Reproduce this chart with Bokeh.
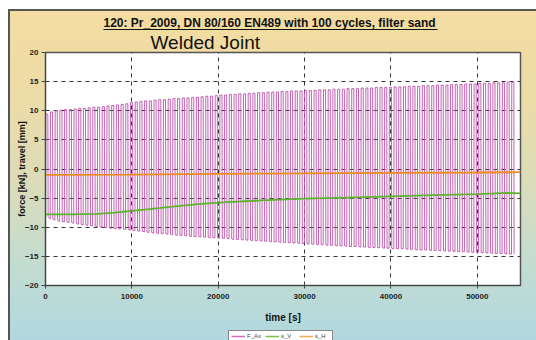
from bokeh.plotting import figure
from bokeh.layouts import column
from bokeh.models import Range1d, FixedTicker, Title, LinearAxis, Legend, LegendItem
from bokeh.embed import file_html
from bokeh.resources import INLINE

# ---------------- data ----------------
cycle_period = 545  # s
force_max = [9.4, 9.8, 10.0, 10.1, 10.2, 10.2, 10.3, 10.4, 10.4, 10.5,
             10.6, 10.6, 10.7, 10.8, 10.9, 11.0, 11.1, 11.2, 11.4, 11.5,
             11.6, 11.7, 11.7, 11.8, 11.9, 11.9, 12.0, 12.1, 12.1, 12.2,
             12.2, 12.3, 12.3, 12.4, 12.5, 12.5, 12.6, 12.7, 12.7, 12.8,
             12.8, 12.9, 12.9, 13.0, 13.0, 13.1, 13.1, 13.2, 13.2, 13.2,
             13.3, 13.3, 13.4, 13.4, 13.4, 13.5, 13.5, 13.5, 13.6, 13.6,
             13.6, 13.7, 13.7, 13.7, 13.8, 13.8, 13.8, 13.9, 13.9, 13.9,
             14.0, 14.0, 14.0, 14.0, 14.1, 14.1, 14.1, 14.2, 14.2, 14.2,
             14.3, 14.3, 14.3, 14.4, 14.4, 14.4, 14.5, 14.5, 14.5, 14.6,
             14.6, 14.6, 14.7, 14.7, 14.7, 14.8, 14.8, 14.8, 14.9, 14.9]
force_min = [-8.2, -8.6, -8.8, -9.0, -9.1, -9.2, -9.3, -9.5, -9.6, -9.7,
             -9.8, -9.9, -10.0, -10.1, -10.2, -10.3, -10.3, -10.4, -10.5, -10.6,
             -10.7, -10.8, -10.9, -11.0, -11.1, -11.1, -11.2, -11.3, -11.4, -11.4,
             -11.5, -11.6, -11.6, -11.7, -11.7, -11.8, -11.8, -11.9, -11.9, -12.0,
             -12.1, -12.1, -12.2, -12.2, -12.3, -12.3, -12.4, -12.4, -12.5, -12.5,
             -12.6, -12.6, -12.7, -12.7, -12.8, -12.8, -12.9, -12.9, -13.0, -13.0,
             -13.1, -13.1, -13.2, -13.2, -13.3, -13.3, -13.3, -13.4, -13.4, -13.5,
             -13.5, -13.5, -13.6, -13.6, -13.7, -13.7, -13.7, -13.8, -13.8, -13.9,
             -13.9, -13.9, -14.0, -14.0, -14.0, -14.1, -14.1, -14.2, -14.2, -14.2,
             -14.3, -14.3, -14.3, -14.4, -14.4, -14.5, -14.5, -14.5, -14.6, -14.6]

sv_t = [0, 3000, 6000, 8000, 10000, 12000, 15000, 18000, 21000, 25000,
        30000, 35000, 40000, 45000, 50000, 53500, 55000]
sv_v = [-7.8, -7.8, -7.7, -7.5, -7.2, -6.9, -6.4, -6.0, -5.7, -5.4,
        -5.1, -4.9, -4.7, -4.5, -4.3, -4.1, -4.2]

sh_t = [0, 10000, 20000, 30000, 40000, 50000, 55000]
sh_v = [-1.0, -0.95, -0.85, -0.75, -0.65, -0.6, -0.55]

y_ticks = [-20, -15, -10, -5, 0, 5, 10, 15, 20]
x_ticks = [0, 10000, 20000, 30000, 40000, 50000]

series_names = ["F_Ax", "s_V", "s_H"]
series_colors = ["#b848a8", "#5cb32e", "#f08a1e"]
legend_colors = ["#d468c4", "#74c244", "#f8a848"]

title_text = "120: Pr_2009, DN 80/160  EN489 with 100 cycles, filter sand"
subtitle_text = "Welded Joint"
title_underline_span = (6700, 45400)  # in time units, under the title

# build force trace (trapezoid per cycle) from the cycle extremes
ft, fv = [], []
for i, (mx, mn) in enumerate(zip(force_max, force_min)):
    t0 = i * cycle_period
    ft += [t0, t0 + 0.06 * cycle_period, t0 + 0.5 * cycle_period, t0 + 0.56 * cycle_period]
    fv += [mn, mx, mx, mn]

FONT = "Liberation Sans"

p = figure(width=536, height=330, output_backend="svg", toolbar_location=None,
           x_range=Range1d(0, 55000), y_range=Range1d(-20, 20),
           min_border_left=45, min_border_right=16, min_border_top=52, min_border_bottom=45)
p.border_fill_color = None
p.background_fill_color = "white"
p.outline_line_color = "#555555"
p.outline_line_width = 1.5

for ax in (p.xaxis[0], p.yaxis[0]):
    ax.major_label_text_font = FONT
    ax.major_label_text_font_style = "bold"
    ax.major_label_text_font_size = "8px"
    ax.major_label_text_color = "#222222"
    ax.axis_label_text_font = FONT
    ax.axis_label_text_font_style = "bold"
    ax.axis_label_text_color = "#111111"
    ax.minor_tick_line_color = None
    ax.axis_line_color = "#444444"
    ax.major_tick_line_color = "#444444"

p.xaxis[0].axis_label_text_font_size = "10px"
p.yaxis[0].axis_label_text_font_size = "9px"
p.xaxis[0].ticker = FixedTicker(ticks=x_ticks)
p.yaxis[0].ticker = FixedTicker(ticks=y_ticks)
p.xaxis[0].major_tick_in = 3
p.xaxis[0].major_tick_out = 3
p.yaxis[0].major_tick_in = 0
p.yaxis[0].major_tick_out = 4
p.xaxis[0].major_label_standoff = 5
p.yaxis[0].major_label_standoff = 3
p.xaxis[0].axis_label = "time [s]"
p.yaxis[0].axis_label = "force [kN], travel [mm]"
p.xaxis[0].axis_label_standoff = 10
p.yaxis[0].axis_label_standoff = -5

p.grid.grid_line_color = "#333333"
p.grid.grid_line_dash = "4 4"
p.grid.grid_line_width = 1

p.line(ft, fv, line_color=series_colors[0], line_width=1, line_alpha=0.85)
p.line(sv_t, sv_v, line_color=series_colors[1], line_width=1.8)
p.line(sh_t, sh_v, line_color=series_colors[2], line_width=1.8)

# titles (stacked from the frame outward)
sub = Title(text=subtitle_text, text_font=FONT, text_font_size="19px", text_font_style="normal",
            text_color="#111111", align="left", offset=105, standoff=0)
p.add_layout(sub, "above")
underline = LinearAxis(bounds=title_underline_span, ticker=FixedTicker(ticks=[]),
                       major_label_text_font_size="0px", major_tick_line_color=None,
                       minor_tick_line_color=None, axis_line_color="#111111", axis_line_width=1)
p.add_layout(underline, "above")
main = Title(text=title_text, text_font=FONT, text_font_size="12px", text_font_style="bold",
             text_color="#111111", align="left", offset=58, standoff=0)
p.add_layout(main, "above")

# legend strip below the chart (its sample lines lie outside the strip's own range)
leg = figure(width=536, height=10, output_backend="svg", toolbar_location=None,
             x_axis_type=None, y_axis_type=None, min_border=0,
             x_range=Range1d(0, 1), y_range=Range1d(0, 1))
leg.grid.visible = False
leg.outline_line_color = None
leg.background_fill_color = None
leg.border_fill_color = None
items = []
for name, col in zip(series_names, legend_colors):
    r = leg.line([5, 6], [5, 6], line_color=col, line_width=1.5)
    items.append(LegendItem(label=name, renderers=[r]))
legend = Legend(items=items, orientation="horizontal", location=(183, -2))
legend.label_text_font = FONT
legend.label_text_font_size = "6px"
legend.glyph_width = 14
legend.glyph_height = 6
legend.label_height = 6
legend.label_width = 15
legend.label_standoff = 2
legend.spacing = 3
legend.padding = 2
legend.margin = 0
legend.border_line_color = "#111111"
legend.border_line_width = 1
legend.background_fill_color = "white"
legend.background_fill_alpha = 1
leg.add_layout(legend)

layout = column(p, leg, spacing=0)
layout.styles = {
    "background": (
        "linear-gradient(#555555,#555555) 8px 9px / 2px 345px no-repeat, "
        "linear-gradient(#555555,#555555) 8px 9px / 540px 2px no-repeat, "
        "linear-gradient(to bottom, #f3dca0 0%, #ecdca8 28%, #d9dcbc 55%, #c4dccf 75%, #b0d8e0 100%) "
        "8px 9px / 540px 333px no-repeat, white"
    ),
}

html = file_html(layout, INLINE)
open("out.html", "w").write(html)
